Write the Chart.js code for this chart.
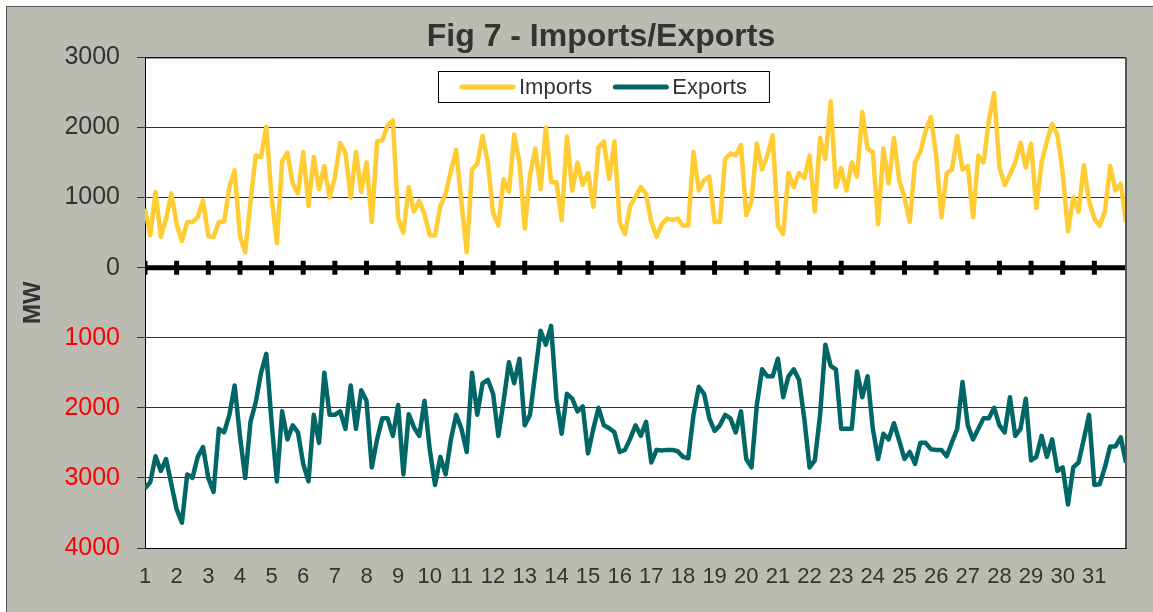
<!DOCTYPE html>
<html>
<head>
<meta charset="utf-8">
<title>Fig 7 - Imports/Exports</title>
<script src="https://cdn.jsdelivr.net/npm/chart.js@4"></script>
<style>
    html, body {
        margin: 0;
        padding: 0;
        background: #fff;
        overflow: hidden;
    }

    #box {
        position: absolute;
        left: 6px;
        top: 6px;
        width: 1188px;
        height: 620px;
        border: 1px solid #555;
        background: #bcbbb2;
    }

    canvas {
        display: block;
    }
</style>
</head>
<body>
<div id="box"><canvas id="flows" width="1188" height="620"></canvas></div>
<script>
// ---------------- DATA ----------------
const dayLabels = [1, 2, 3, 4, 5, 6, 7, 8, 9, 10, 11, 12, 13, 14, 15, 16,
    17, 18, 19, 20, 21, 22, 23, 24, 25, 26, 27, 28, 29, 30, 31];
const lastDay = 32;
const pointsPerDay = 6; // one reading every 4 hours

// MW, one row per day
const importsMW = [
    840, 460, 1080, 440, 700, 1060,
    620, 380, 650, 650, 720, 960,
    450, 440, 650, 660, 1150, 1390,
    450, 220, 940, 1600, 1580, 2010,
    1000, 350, 1520, 1640, 1200, 1060,
    1650, 880, 1580, 1120, 1450, 1000,
    1290, 1780, 1640, 1000, 1650, 1080,
    1500, 650, 1800, 1820, 2030, 2100,
    700, 500, 1150, 800, 950, 760,
    460, 460, 880, 1050, 1380, 1680,
    940, 220, 1400, 1480, 1880, 1500,
    780, 600, 1260, 1080, 1900, 1500,
    560, 1320, 1700, 1120, 2000, 1220,
    1220, 680, 1870, 1100, 1500, 1180,
    1350, 870, 1720, 1800, 1270, 1800,
    650, 480, 880, 1010, 1150, 1050,
    650, 440, 620, 700, 680, 700,
    600, 600, 1650, 1100, 1250, 1300,
    650, 650, 1550, 1630, 1600, 1750,
    750, 950, 1770, 1400, 1600, 1890,
    600, 480, 1350, 1150, 1350, 1280,
    1600, 800, 1850, 1550, 2370, 1150,
    1420, 1100, 1500, 1300, 2220, 1700,
    1650, 620, 1700, 1200, 1850, 1250,
    1000, 650, 1500, 1650, 1950, 2150,
    1600, 720, 1350, 1400, 1880, 1400,
    1450, 720, 1600, 1500, 2100, 2490,
    1430, 1180, 1330, 1500, 1780, 1430,
    1770, 850, 1500, 1800, 2050, 1890,
    1350, 520, 1000, 800, 1460, 950,
    700, 600, 800, 1450, 1100, 1200,
    650
];

const exportsMW = [
    3150, 3060, 2690, 2900, 2730, 3090,
    3450, 3640, 2950, 3000, 2700, 2560,
    3000, 3200, 2300, 2350, 2100, 1680,
    2400, 3000, 2200, 1920, 1500, 1230,
    2200, 3050, 2050, 2450, 2250, 2350,
    2800, 3050, 2100, 2500, 1500, 2100,
    2100, 2050, 2300, 1680, 2300, 1750,
    1900, 2850, 2450, 2150, 2150, 2400,
    1960, 2950, 2090, 2280, 2400, 1900,
    2600, 3100, 2700, 2950, 2450, 2100,
    2300, 2630, 1500, 2100, 1650, 1600,
    1800, 2400, 1900, 1350, 1650, 1300,
    2250, 2100, 1500, 900, 1100, 830,
    1870, 2370, 1800, 1870, 2050, 1980,
    2650, 2300, 2000, 2250, 2290, 2350,
    2630, 2600, 2440, 2250, 2400, 2200,
    2780, 2600, 2610, 2600, 2600, 2620,
    2700, 2720, 2100, 1700, 1800, 2150,
    2330, 2250, 2100, 2150, 2350, 2050,
    2730, 2850, 1960, 1450, 1550, 1550,
    1300, 1850, 1550, 1450, 1600, 2150,
    2850, 2750, 2100, 1100, 1400, 1450,
    2300, 2300, 2300, 1480, 1850, 1550,
    2300, 2730, 2370, 2450, 2220, 2470,
    2730, 2630, 2800, 2500, 2500, 2590,
    2600, 2600, 2690, 2490, 2300, 1630,
    2250, 2450, 2300, 2150, 2150, 2000,
    2250, 2350, 1850, 2400, 2300, 1870,
    2750, 2700, 2400, 2700, 2450, 2900,
    2850, 3380, 2850, 2780, 2450, 2100,
    3100, 3090, 2850, 2550, 2550, 2420,
    2780
];

const IMPORT_COLOR = "#ffcc33";
const EXPORT_COLOR = "#006666";
const TEXT_COLOR = "#333333";

Chart.defaults.font.family = '"Liberation Sans", Arial, sans-serif';

// ---------------- HELPERS ----------------
function toPoints(values, sign) {
    return values.map((v, i) => ({
        x: 1 + i / pointsPerDay,
        y: sign * v
    }));
}

// white plot area + top/right frame
const plotFrame = {
    id: "plotFrame",

    beforeDraw(chart) {
        const { ctx, chartArea: a } = chart;
        ctx.save();
        ctx.fillStyle = "#fff";
        ctx.fillRect(a.left, a.top, a.right - a.left, a.bottom - a.top);
        ctx.restore();
    },

    afterDraw(chart) {
        const { ctx, chartArea: a } = chart;
        ctx.save();
        ctx.strokeStyle = "#000";
        ctx.lineWidth = 1;
        ctx.beginPath();
        ctx.moveTo(a.left, a.top + 0.5);
        ctx.lineTo(a.right - 0.5, a.top + 0.5);
        ctx.stroke();
        ctx.strokeStyle = "#555";
        ctx.lineWidth = 2;
        ctx.beginPath();
        ctx.moveTo(a.right, a.top);
        ctx.lineTo(a.right, a.bottom);
        ctx.stroke();
        ctx.restore();
    }
};

// Excel style boxed legend floating inside the plot
const boxLegend = {
    id: "boxLegend",

    afterDraw(chart) {
        const ctx = chart.ctx;
        const items = chart.data.datasets.filter(ds => ds.inLegend);

        const pad = 22, lineLen = 55, gap = 4, itemGap = 21, h = 31;

        ctx.save();
        ctx.font = '22px "Liberation Sans", Arial, sans-serif';

        let w = pad * 2;
        items.forEach((ds, i) => {
            w += lineLen + gap + ctx.measureText(ds.label).width + (i ? itemGap : 0);
        });

        const left = Math.round(chart.width / 2 - w / 2 + 2);
        const top = Math.round(chart.chartArea.top + 14);

        ctx.fillStyle = "#fff";
        ctx.fillRect(left, top, w, h);
        ctx.strokeStyle = "#000";
        ctx.lineWidth = 1;
        ctx.strokeRect(left + 0.5, top + 0.5, w, h);

        let x = left + pad;
        const cy = top + h / 2 + 0.5;

        items.forEach(ds => {
            ctx.strokeStyle = ds.borderColor;
            ctx.lineWidth = 5;
            ctx.lineCap = "round";
            ctx.beginPath();
            ctx.moveTo(x + 2, cy);
            ctx.lineTo(x + lineLen - 2, cy);
            ctx.stroke();

            x += lineLen + gap;
            ctx.fillStyle = TEXT_COLOR;
            ctx.textAlign = "left";
            ctx.textBaseline = "middle";
            ctx.fillText(ds.label, x, cy + 1);
            x += ctx.measureText(ds.label).width + itemGap;
        });

        ctx.restore();
    }
};

// ---------------- CHART ----------------
const zeroLine = dayLabels.concat(lastDay).map(d => ({ x: d, y: 0 }));

new Chart(document.getElementById("flows"), {
    type: "line",

    data: {
        datasets: [
            {
                label: "Imports",
                inLegend: true,
                data: toPoints(importsMW, 1),
                borderColor: IMPORT_COLOR,
                borderWidth: 4.5,
                borderJoinStyle: "round",
                pointRadius: 0,
                tension: 0
            },
            {
                label: "Exports",
                inLegend: true,
                data: toPoints(exportsMW, -1),
                borderColor: EXPORT_COLOR,
                borderWidth: 4.5,
                borderJoinStyle: "round",
                pointRadius: 0,
                tension: 0
            },
            {
                label: "zero",
                data: zeroLine,
                borderColor: "#000",
                borderWidth: 5,
                pointStyle: "line",
                rotation: 90,
                pointRadius: zeroLine.map(p => (p.x === lastDay ? 0 : 7)),
                pointBorderWidth: 5,
                pointBorderColor: "#000",
                pointBackgroundColor: "#000"
            }
        ]
    },

    options: {
        responsive: false,
        animation: false,
        events: [],

        layout: {
            padding: { left: 0, right: 0, top: 0, bottom: 19 }
        },

        plugins: {
            legend: { display: false },
            tooltip: { enabled: false },
            title: {
                display: true,
                text: "Fig 7 - Imports/Exports",
                color: TEXT_COLOR,
                font: { size: 32, weight: "bold" },
                padding: { top: 11, bottom: 1 }
            }
        },

        scales: {
            x: {
                type: "linear",
                min: 1,
                max: lastDay,
                afterFit: s => { s.height = 60; },
                grid: { display: false, drawTicks: false },
                border: { display: true, color: "#000", width: 1 },
                ticks: {
                    stepSize: 1,
                    autoSkip: false,
                    maxRotation: 0,
                    padding: 16,
                    color: TEXT_COLOR,
                    font: { size: 22 },
                    callback: v => (dayLabels.includes(v) ? String(v) : "")
                }
            },

            y: {
                min: -4000,
                max: 3000,
                afterFit: s => { s.width = 138; },
                grid: {
                    color: "#333",
                    lineWidth: 1,
                    drawTicks: true,
                    tickLength: 8
                },
                border: { display: true, color: "#000", width: 1 },
                ticks: {
                    stepSize: 1000,
                    padding: 17,
                    font: { size: 25 },
                    color: c => (c.tick && c.tick.value < 0 ? "#ff0000" : TEXT_COLOR),
                    callback: v => String(Math.abs(v))
                },
                title: {
                    display: true,
                    text: "MW",
                    color: TEXT_COLOR,
                    font: { size: 24, weight: "bold" },
                    padding: { top: 12, bottom: 0 }
                }
            },

            // empty strip keeping the grey margin right of the plot
            margin: {
                position: "right",
                afterFit: s => { s.width = 69; },
                grid: { display: false, drawTicks: false },
                border: { display: false },
                ticks: { display: false }
            }
        }
    },

    plugins: [plotFrame, boxLegend]
});
</script>
</body>
</html>
